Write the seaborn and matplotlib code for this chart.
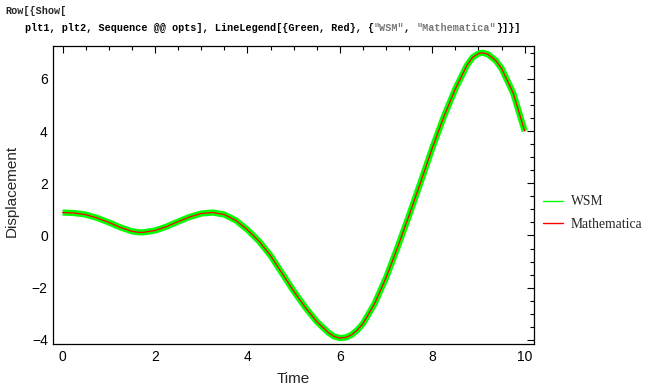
import matplotlib
matplotlib.use("Agg")
import matplotlib.pyplot as plt
from matplotlib.lines import Line2D
from matplotlib.ticker import MultipleLocator
import seaborn as sns
import pandas as pd

# data
time = [0.00, 0.25, 0.50, 0.75, 1.00, 1.25, 1.50, 1.65, 1.75, 2.00, 2.25, 2.50,
        2.75, 3.00, 3.25, 3.50, 3.75, 4.00, 4.25, 4.50, 4.75, 5.00, 5.25, 5.50,
        5.75, 5.875, 6.00, 6.125, 6.25, 6.375, 6.50, 6.75, 7.00, 7.25, 7.50, 7.75,
        8.00, 8.25, 8.50, 8.75, 8.875, 9.00, 9.08, 9.20, 9.375, 9.50, 9.75, 10.00]
wsm = [0.88, 0.86, 0.80, 0.67, 0.50, 0.31, 0.16, 0.12, 0.12, 0.19, 0.34, 0.53,
       0.71, 0.84, 0.88, 0.80, 0.58, 0.22, -0.22, -0.77, -1.45, -2.13, -2.75, -3.30,
       -3.72, -3.87, -3.93, -3.91, -3.81, -3.63, -3.38, -2.62, -1.62, -0.45, 0.78, 2.05,
       3.35, 4.55, 5.62, 6.52, 6.83, 6.97, 7.00, 6.95, 6.70, 6.40, 5.46, 4.00]
mathematica = list(wsm)
series_names = ["WSM", "Mathematica"]
series_colors = ["#00FF00", "#FF0000"]
x_ticks = [0, 2, 4, 6, 8, 10]
y_ticks = [-4, -2, 0, 2, 4, 6]

df_wsm = pd.DataFrame({"Time": time, "Displacement": wsm})
df_math = pd.DataFrame({"Time": time, "Displacement": mathematica})

sns.set_style("white")
plt.rcParams["font.family"] = ["Liberation Sans", "DejaVu Sans"]

fig = plt.figure(figsize=(6.48, 3.90), dpi=100)
ax = fig.add_axes([0.0823, 0.1179, 0.7417, 0.7641])

sns.lineplot(data=df_wsm, x="Time", y="Displacement", ax=ax, color=series_colors[0],
             linewidth=4.5, solid_capstyle="butt", solid_joinstyle="round",
             estimator=None, sort=False)
sns.lineplot(data=df_math, x="Time", y="Displacement", ax=ax, color=series_colors[1],
             linewidth=0.9, solid_joinstyle="round", estimator=None, sort=False)

ax.set_xlim(-0.2, 10.2)
ax.set_ylim(-4.16, 7.26)
ax.set_xticks(x_ticks)
ax.set_yticks(y_ticks)
ax.set_xticklabels([str(v) for v in x_ticks], fontsize=10)
ax.set_yticklabels([str(v).replace("-", "\u2212") for v in y_ticks], fontsize=10)
ax.xaxis.set_minor_locator(MultipleLocator(0.5))
ax.yaxis.set_minor_locator(MultipleLocator(0.5))
ax.tick_params(which="both", direction="in", top=True, right=True, color="black",
               width=0.8, labelcolor="black")
ax.tick_params(which="major", length=5, pad=4)
ax.tick_params(which="minor", length=2.8)
for s in ax.spines.values():
    s.set_color("black")
    s.set_linewidth(0.9)
ax.set_xlabel("Time", fontsize=11, labelpad=6)
ax.set_ylabel("Displacement", fontsize=11)
ax.yaxis.set_label_coords(-0.072, 0.515)

handles = [Line2D([], [], color=c, linewidth=1.0) for c in series_colors]
leg = ax.legend(handles, series_names, loc="center left",
                bbox_to_anchor=(0.830, 0.454), bbox_transform=fig.transFigure,
                frameon=False, handlelength=1.45, handletextpad=0.55,
                labelspacing=0.68, borderaxespad=0,
                prop={"family": "Liberation Serif", "size": 9.8})

fs = 7.3
fig.text(0.008, 0.972, "Row[{Show[", family="Liberation Mono", weight="bold",
         fontsize=fs, va="center", ha="left")
x0 = 0.038
parts = [("plt1, plt2, Sequence @@ opts], LineLegend[{Green, Red}, {", "black"),
         ("\"WSM\"", "#777777"), (", ", "black"), ("\"Mathematica\"", "#777777"),
         ("}]}]", "black")]
fig.canvas.draw()
renderer = fig.canvas.get_renderer()
xpos = x0
for txt, col in parts:
    t = fig.text(xpos, 0.928, txt, family="Liberation Mono", weight="bold",
                 fontsize=fs, va="center", ha="left", color=col)
    bb = t.get_window_extent(renderer=renderer)
    xpos += bb.width / fig.bbox.width

fig.savefig("out.png", dpi=100, facecolor="white")
